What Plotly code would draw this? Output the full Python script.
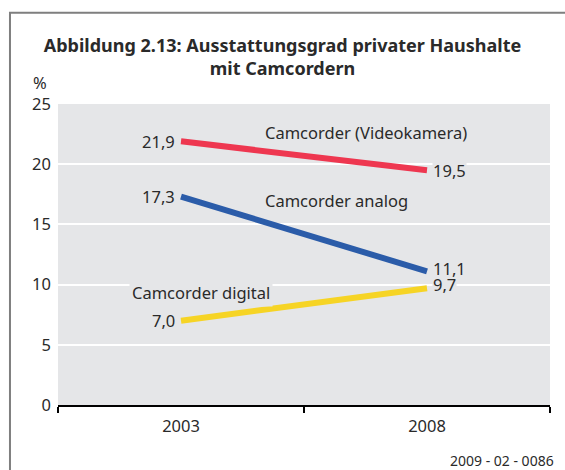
import plotly.graph_objects as go

years = ["2003", "2008"]
series_names = ["Camcorder (Videokamera)", "Camcorder analog", "Camcorder digital"]
video = [21.9, 19.5]
analog = [17.3, 11.1]
digital = [7.0, 9.7]
colors = ["#ee3750", "#2b5ca9", "#f6d425"]
y_ticks = [0, 5, 10, 15, 20, 25]

title_text = "Abbildung 2.13: Ausstattungsgrad privater Haushalte<br>mit Camcordern"
footer_text = "2009 - 02 - 0086"

FONT = "Noto Sans"
BG = "#e5e6e8"
TXT = "#2a2a2a"
FS = 16.5

def de(v):
    return f"{v:.1f}".replace(".", ",")

fig = go.Figure()
all_series = [video, analog, digital]
for name, vals, col in zip(series_names, all_series, colors):
    fig.add_trace(go.Scatter(x=years, y=vals, mode="lines", name=name,
                             line=dict(color=col, width=6), showlegend=False,
                             hoverinfo="skip"))

# value labels (x given as category index)
left_yshift = [0, 0, 0]
right_yshift = [0, 3, 4]
right_bg = [BG, "rgba(0,0,0,0)", BG]
for i, vals in enumerate(all_series):
    fig.add_annotation(x=0, y=vals[0], text=de(vals[0]), showarrow=False,
                       xanchor="right", xshift=-4, yshift=left_yshift[i],
                       font=dict(family=FONT, size=FS, color=TXT))
for i in reversed(range(len(all_series))):
    vals = all_series[i]
    fig.add_annotation(x=1, y=vals[1], text=de(vals[1]), showarrow=False,
                       xanchor="left", xshift=5, yshift=right_yshift[i],
                       bgcolor=right_bg[i], borderpad=0,
                       font=dict(family=FONT, size=FS, color=TXT))

# series name labels
name_pos = [(0.4155, 22.65), (0.4155, 16.95), (0.1442, 9.35)]
for name, (px, py) in zip(series_names, name_pos):
    fig.add_annotation(x=px, xref="paper", y=py, yref="y", text=name, showarrow=False,
                       xanchor="left", bgcolor=BG, borderpad=2,
                       font=dict(family=FONT, size=FS, color=TXT))

# % unit label
fig.add_annotation(x=-0.037, xref="paper", y=1.073, yref="paper", text="%",
                   showarrow=False, xanchor="center", yanchor="middle",
                   font=dict(family=FONT, size=FS, color=TXT))

# footer
fig.add_annotation(x=1.012, xref="paper", y=-0.183, yref="paper", text=footer_text,
                   showarrow=False, xanchor="right", yanchor="middle",
                   font=dict(family=FONT, size=14, color=TXT))

# outer frame
fig.add_shape(type="rect", xref="paper", yref="paper", x0=-0.0976, x1=1.2,
              y0=-0.4, y1=1.303, line=dict(color="#7f7f7f", width=2), layer="below")

fig.update_layout(
    width=565, height=470,
    margin=dict(l=58, r=15, t=104, b=65),
    paper_bgcolor="white", plot_bgcolor=BG,
    font=dict(family=FONT, size=FS, color=TXT),
    title=dict(text=title_text, x=0.5, xref="container", xanchor="center",
               y=1 - 52 / 470, yref="container", yanchor="top",
               font=dict(family=FONT, size=18, color=TXT, weight="bold")),
    xaxis=dict(type="category", range=[-0.5, 1.5], showgrid=False,
               tickson="boundaries", ticks="outside", ticklen=6, tickwidth=1.5,
               tickcolor="black", showline=True, linecolor="black", linewidth=2,
               tickfont=dict(family=FONT, size=FS, color=TXT), zeroline=False,
               ticklabelstandoff=5, fixedrange=True),
    yaxis=dict(range=[0, 25], tickvals=y_ticks, showgrid=True, gridcolor="white",
               gridwidth=2, zeroline=False, showline=False, ticks="",
               tickfont=dict(family=FONT, size=FS, color=TXT), ticklabelstandoff=6,
               fixedrange=True),
)

fig.write_html("out.html", config={"displayModeBar": False},
               post_script="document.body.style.margin='0';")
